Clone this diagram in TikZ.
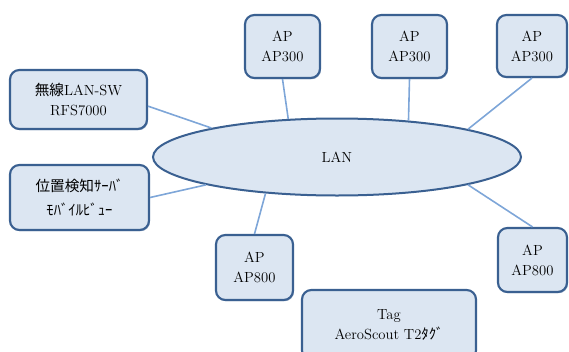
\documentclass[tikz,border=0pt]{standalone}
\usepackage{fontspec}
\newfontfamily\jpfont{Noto Sans CJK JP}
\usepackage{tikz}
\usetikzlibrary{shapes.geometric}
\usetikzlibrary{shadows}

\definecolor{boxfill}{HTML}{DCE6F2}
\definecolor{boxline}{HTML}{3A6091}
\definecolor{linkline}{HTML}{7EA6D8}

\begin{document}
\begin{tikzpicture}[x=0.75pt, y=-0.75pt,
    unit/.style={draw=boxline, line width=1.6pt, fill=boxfill, rounded corners=7pt,
        align=center, inner sep=2pt, font=\fontsize{11}{15}\selectfont,
        drop shadow={shadow xshift=0.7pt, shadow yshift=-0.9pt, fill=boxline, opacity=0.5}},
    link/.style={linkline, line width=1.2pt}]
    \useasboundingbox (0,0) rectangle (569,351);

    % --- LAN backbone ---
    \node[ellipse, draw=boxline, line width=1.5pt, fill=boxfill, inner sep=0pt,
        minimum width=276pt, minimum height=57.75pt, font=\fontsize{11}{15}\selectfont]
        (lan) at (337,157) {LAN};

    % Switch and location server (left)
    \node[unit, minimum width=102.75pt, minimum height=44.25pt] (sw) at (78.5,99.5)
        {{\jpfont 無線}LAN-SW\\RFS7000};
    \node[unit, minimum width=104.25pt, minimum height=48.75pt] (srv) at (79.5,197.5)
        {\jpfont 位置検知ｻｰﾊﾞ\\[3pt]\jpfont ﾓﾊﾞｲﾙﾋﾞｭｰ};

    % Access points AP300 (top)
    \node[unit, minimum width=56.25pt, minimum height=47.25pt] (apa) at (282.5,46.5) {AP\\AP300};
    \node[unit, minimum width=56.25pt, minimum height=47.25pt] (apb) at (409.5,46.5) {AP\\AP300};
    \node[unit, minimum width=52.5pt, minimum height=46.5pt] (apc) at (532,46) {AP\\AP300};

    % Access points AP800 (bottom)
    \node[unit, minimum width=57.75pt, minimum height=48.75pt] (apd) at (254.5,267.5) {AP\\AP800};
    \node[unit, minimum width=51.75pt, minimum height=48pt] (ape) at (532.5,260) {AP\\AP800};

    % Tag (not connected)
    \node[unit, minimum width=130.5pt, minimum height=52.5pt] (tag) at (389,325)
        {Tag\\AeroScout T2{\jpfont ﾀｸﾞ}};

    % Links to LAN
    \draw[link] ([yshift=-5pt]sw.east) -- (lan.167);
    \draw[link] (srv.east) -- (lan.192);
    \draw[link] (apa.south) -- (lan.142);
    \draw[link] (apb.south) -- (lan.27);
    \draw[link] (apc.south) -- (lan.12);
    \draw[link] (apd.north) -- (lan.207);
    \draw[link] (ape.north) -- (lan.348);
\end{tikzpicture}
\end{document}
